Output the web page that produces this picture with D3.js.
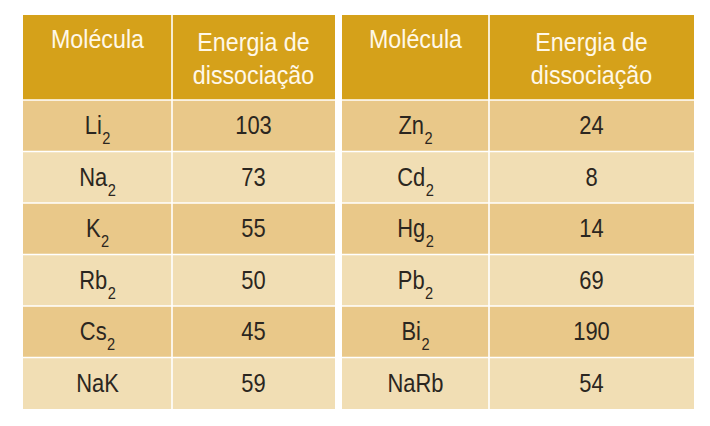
<!DOCTYPE html>
<html>
<head>
<meta charset="utf-8">
<script src="https://cdn.jsdelivr.net/npm/d3@7"></script>
<style>
  html, body { margin: 0; padding: 0; background: #ffffff; }
  svg { display: block; }
  text { font-family: "Liberation Sans", Arial, sans-serif; }
</style>
</head>
<body>
<svg id="chart" width="710" height="426"></svg>
<script>
// ---- data ----
const headerCol1 = ["Molécula"];
const headerCol2 = ["Energia de", "dissociação"];
const leftBase = ["Li", "Na", "K", "Rb", "Cs", "NaK"];
const leftSub = ["2", "2", "2", "2", "2", ""];
const leftEnergy = [103, 73, 55, 50, 45, 59];
const rightBase = ["Zn", "Cd", "Hg", "Pb", "Bi", "NaRb"];
const rightSub = ["2", "2", "2", "2", "2", ""];
const rightEnergy = [24, 8, 14, 69, 190, 54];

// ---- styles ----
const headerColor = "#D5A11A";
const darkRow = "#E9C889";
const lightRow = "#F1DEB4";
const headerText = "#FFF8E8";
const bodyText = "#2B2620";
const headerScale = 0.93, bodyScale = 0.86;

const svg = d3.select("#chart");

const tables = [
  { x0: 23, x1: 335, split: 172, base: leftBase, sub: leftSub, energy: leftEnergy },
  { x0: 342, x1: 694, split: 489, base: rightBase, sub: rightSub, energy: rightEnergy }
];

const headerTop = 15, headerBottom = 100, bodyBottom = 409;
const y = d3.scaleBand().domain(d3.range(leftBase.length)).range([headerBottom, bodyBottom]);

function label(g, x, yy, scale) {
  return g.append("g").attr("transform", `translate(${x},${yy}) scale(${scale},1)`)
    .append("text").attr("x", 0).attr("y", 0).attr("text-anchor", "middle");
}

tables.forEach(t => {
  const g = svg.append("g");
  const cols = [[t.x0, t.split], [t.split, t.x1]];
  const cx = c => (cols[c][0] + cols[c][1]) / 2;

  // header cells
  cols.forEach(([a, b]) => {
    g.append("rect").attr("x", a).attr("y", headerTop).attr("width", b - a).attr("height", headerBottom - headerTop).attr("fill", headerColor);
  });
  // body cells
  t.base.forEach((d, i) => {
    cols.forEach(([a, b]) => {
      g.append("rect").attr("x", a).attr("y", y(i)).attr("width", b - a).attr("height", y.bandwidth())
        .attr("fill", i % 2 === 0 ? darkRow : lightRow);
    });
  });
  // white grid lines
  const lines = [headerBottom].concat(t.base.map((d, i) => y(i)).slice(1));
  lines.forEach(yy => {
    g.append("line").attr("x1", t.x0).attr("x2", t.x1).attr("y1", yy).attr("y2", yy)
      .attr("stroke", "#ffffff").attr("stroke-width", 1.6);
  });
  g.append("line").attr("x1", t.split).attr("x2", t.split).attr("y1", headerTop).attr("y2", bodyBottom)
    .attr("stroke", "#ffffff").attr("stroke-width", 1.6);

  // header text
  label(g, cx(0), 48, headerScale).attr("font-size", 25).attr("fill", headerText).text(headerCol1[0]);
  headerCol2.forEach((s, k) => {
    label(g, cx(1), 51 + k * 33, headerScale).attr("font-size", 25).attr("fill", headerText).text(s);
  });

  // body text
  t.base.forEach((d, i) => {
    const by = y(i) + y.bandwidth() / 2 + 8.5;
    const tx = label(g, cx(0), by, bodyScale).attr("font-size", 25.5).attr("fill", bodyText);
    tx.append("tspan").text(d);
    if (t.sub[i]) {
      tx.append("tspan").attr("font-size", 17).attr("dy", 10).attr("dx", 0.5).text(t.sub[i]);
    }
    label(g, cx(1), by, bodyScale).attr("font-size", 25.5).attr("fill", bodyText).text(t.energy[i]);
  });
});
</script>
</body>
</html>
